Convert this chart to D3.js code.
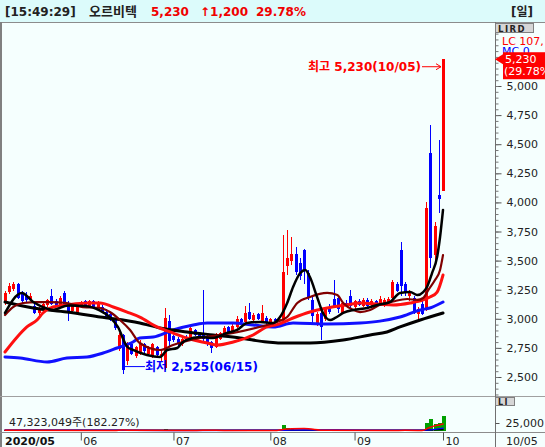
<!DOCTYPE html>
<html><head><meta charset="utf-8">
<script src="https://cdn.jsdelivr.net/npm/d3@7"></script>
<style>body{margin:0;background:#fff}svg{display:block}</style>
</head><body>
<script>
// ---------------- DATA ----------------
const openP = [3140,3230,3260,3300,3220,3200,3160,3110,3050,3090,
3120,3200,3150,3100,3220,3130,3070,3040,3100,3150,
3110,3150,3100,3100,3060,3040,3000,2740,2860,2640,
2780,2680,2700,2780,2700,2680,2760,2680,2580,2980,
2850,2830,2780,2840,2820,2900,2880,2870,2850,2800,
2760,2830,2860,2930,2880,2930,3000,2970,3060,2990,
3040,2980,3010,2970,3000,2980,2990,3450,3500,3560,
3480,3590,3390,3160,2960,3050,3000,3100,3170,3180,
3050,3140,3200,3100,3150,3110,3160,3120,3150,3120,
3130,3140,3180,3300,3590,3300,3200,3180,3040,3130,
3080,4425,3550,4065,4100];
const highP = [3235,3310,3320,3310,3240,3230,3220,3140,3100,3140,
3170,3260,3170,3200,3240,3150,3120,3120,3150,3160,
3160,3160,3150,3120,3080,3050,3010,2880,2870,2800,
2800,2770,2820,2790,2770,2790,2770,2730,3090,3030,
2860,2840,2850,2860,2940,2910,2890,3250,2860,2810,
2880,2890,2940,2940,2960,3020,3010,3110,3140,3050,
3050,3120,3020,3010,3010,3020,3720,3760,3700,3620,
3520,3600,3420,3200,3060,3060,3100,3130,3330,3200,
3150,3160,3250,3160,3170,3180,3180,3170,3160,3200,
3180,3190,3330,3320,3660,3320,3250,3200,3100,3150,
4000,4665,3830,4535,5230];
const lowP = [3120,3215,3240,3170,3130,3140,3150,3040,3030,3080,
3100,3120,3110,3090,3110,2980,3050,3030,3090,3100,
3100,3090,3090,3050,3000,2980,2900,2720,2525,2600,
2690,2660,2690,2700,2680,2660,2680,2640,2560,2760,
2800,2760,2770,2800,2810,2850,2830,2800,2770,2710,
2750,2820,2850,2870,2870,2920,2960,2960,2990,2980,
2990,2970,2950,2960,2970,2970,2980,3380,3460,3380,
3330,3300,3160,2950,2940,2820,2980,3040,3090,3050,
3040,3100,3090,3080,3110,3100,3100,3110,3110,3110,
3100,3120,3150,3230,3200,3200,3150,3040,2990,3030,
3070,3440,3500,3910,4100];
const closeP = [3220,3280,3300,3180,3150,3160,3200,3050,3090,3130,
3160,3130,3120,3180,3120,3060,3110,3110,3140,3110,
3150,3100,3140,3060,3010,2990,2920,2860,2560,2780,
2700,2760,2790,2720,2760,2780,2690,2700,3010,2810,
2820,2780,2830,2810,2920,2860,2840,2830,2790,2750,
2860,2880,2920,2890,2940,3000,2970,3050,3000,3030,
3000,3050,2960,3000,2980,3000,3400,3520,3560,3400,
3370,3420,3190,3020,3040,2930,3090,3060,3110,3080,
3140,3120,3110,3150,3120,3160,3110,3150,3130,3170,
3160,3170,3320,3240,3280,3220,3230,3050,3080,3040,
3950,3520,3800,4030,5230];
// volume in millions of shares
const volumeM = [3.2,2.8,2.5,2.4,2.0,1.8,1.6,2.2,1.5,1.4,
1.3,1.8,1.2,1.4,1.6,2.0,1.2,1.1,1.3,1.0,
1.1,1.0,1.2,1.3,1.5,1.4,2.0,3.0,4.5,2.5,
1.8,1.5,1.6,1.2,1.1,1.3,1.0,1.2,5.0,3.0,
1.6,1.3,1.2,1.1,2.0,1.4,1.2,4.2,2.0,1.5,
1.6,1.3,1.4,1.1,1.3,1.8,1.2,2.2,2.0,1.3,
1.2,1.5,1.2,1.0,1.1,1.2,19.0,9.0,5.5,4.0,
3.0,3.2,2.5,2.8,1.8,2.2,1.6,1.4,1.8,1.5,
1.4,1.2,1.5,1.1,1.0,1.2,1.0,1.1,1.0,1.2,
1.1,1.3,2.5,1.6,4.0,1.8,1.3,1.6,1.4,1.5,
26.0,38.0,22.0,26.0,47.323049];

// moving averages: [candle index] -> value
const ma5Idx = [0,4,6.7,9,11.4,15,19,22.6,24.9,26.8,29,30.4,33.7,36.8,38.5,40.9,42,43.2,46.3,49.4,52.7,55.1,57.5,60.6,63.7,65.3,67,68.4,70.1,71.3,72.4,74.1,75.5,77.2,78.4,80.3,82.7,86,88.4,91.4,93.8,96.2,97.9,99.3,100.2,101.4,102.6,103.3,104];
const ma5Val = [3050,3222,3144,3101,3076,3115,3110,3070,3015,2930,2760,2732,2689,2672,2732,2749,2792,2818,2844,2835,2878,2904,2964,2973,2964,3015,3136,3273,3393,3419,3359,3187,3050,2990,3007,3050,3076,3093,3119,3144,3222,3230,3204,3230,3273,3393,3531,3703,3935];
const ma10Idx = [0,1.9,4.3,7.6,10.7,14.7,18.5,22.6,24.9,27.3,29.7,32,36.8,39.9,46.3,54.2,62.2,64.6,67,69.4,72.4,76.5,78.9,80.3,82.7,84.3,86.7,89,92.2,95.5,97.9,99.3,100.5,102.1,103.3,104];
const ma10Val = [3033,3101,3136,3144,3144,3136,3101,3093,3058,2990,2904,2792,2732,2775,2835,2878,2947,2973,3015,3136,3187,3222,3204,3136,3076,3058,3076,3120,3150,3170,3162,3179,3247,3333,3419,3548];
const ma20Idx = [0,2.9,5.2,7.6,9,11.4,14.7,19.5,22.6,25.7,29,32,36.1,39.2,43.2,48,50.4,54.2,58.9,62.2,64.6,68.4,72.4,76.5,81,84.3,89,92.2,96.2,99.3,100.9,102.6,104];
const ma20Val = [2715,2844,2930,2990,3050,3101,3119,3136,3136,3101,3058,3015,2930,2887,2835,2792,2775,2801,2861,2930,2950,3007,3058,3093,3119,3136,3125,3119,3136,3162,3187,3230,3376];
const ma60Idx = [0,3.6,10,14.7,19.5,23.3,26.6,30.4,32,35.2,39.9,44.7,48,54.2,58.9,63.7,68.4,76.5,84.3,89,93.8,98.6,100.9,104];
const ma60Val = [2672,2663,2629,2663,2672,2706,2749,2801,2835,2844,2904,2947,2964,2964,2947,2930,2964,2955,2964,2980,3015,3076,3093,3144];
const ma120Idx = [0,6.7,14.7,22.6,32,36.8,43.2,49.4,55.8,62.2,65.3,72.4,80.3,86.7,90.7,93.8,98.6,104];
const ma120Val = [3144,3093,3058,3015,2964,2921,2887,2861,2835,2801,2792,2792,2818,2861,2887,2930,2990,3050];

const vma5Idx = [0,26,28,30,44,47,50,64,66,68,71,76,92,95,98,99,100,101,102,103,104];
const vma5Val = [2.3,1.5,2.8,2.5,1.4,2.2,2.0,1.2,4.7,7.2,7.8,2.3,1.5,2.3,1.9,1.5,6,12,16,19,22];
const vma20Idx = [0,28,40,66,70,86,99,104];
const vma20Val = [2.0,2.2,1.8,2.6,3.5,2.6,2.0,9.0];
const vma60Idx = [0,66,99,104];
const vma60Val = [2.0,2.0,2.4,4.6];

const priceTicks = [2500,2750,3000,3250,3500,3750,4000,4250,4500,4750,5000];
const volTicks = [25];
const monthIdx = [18,40,63,83,104];
const monthLabels = ["06","07","08","09","10"];
const firstLabel = "2020/05";
const lastDate = "10/05";
const headerTime = "[15:49:29]";
const stockName = "오르비텍";
const lastPrice = "5,230";
const change = "↑1,200";
const changePct = "29.78%";
const periodLabel = "[일]";
const volText = "47,323,049주(182.27%)";
const hiText = "최고 5,230(10/05)";
const loText = "최저 2,525(06/15)";
const hiIdx = 104, loIdx = 28;

// ---------------- LAYOUT ----------------
const W = 545, H = 447;
const font = "'DejaVu Sans','Noto Sans CJK KR',sans-serif";
const x = d3.scaleLinear().domain([0, 104]).range([5, 443]);
const y = d3.scaleLinear().domain([2500, 5000]).range([377, 86]);
const yv = d3.scaleLinear().domain([0, 25]).range([431, 423]);

const svg = d3.select("body").append("svg").attr("width", W).attr("height", H)
  .style("font-family", font);

svg.append("rect").attr("width", W).attr("height", H).attr("fill", "#f5fffe");
svg.append("rect").attr("width", W).attr("height", 22).attr("fill", "#dcfbfb");

function line(x1,y1,x2,y2,c,w){svg.append("line").attr("x1",x1).attr("y1",y1).attr("x2",x2).attr("y2",y2).attr("stroke",c).attr("stroke-width",w||1).attr("shape-rendering","crispEdges");}
line(0,22.5,W,22.5,"#8c8c8c");
line(1,22,1,H,"#808080",2);
line(0,396.5,W,396.5,"#a0a0a0");
line(0,432.5,W,432.5,"#8c8c8c");
line(495.5,22,495.5,H,"#707070");

// header
const hdr = svg.append("g").attr("font-weight","bold").attr("font-size","12px");
hdr.append("text").attr("x",5).attr("y",16).attr("fill","#222").text(headerTime);
hdr.append("text").attr("x",89).attr("y",16).attr("fill","#222").attr("font-size","13px").text(stockName);
hdr.append("text").attr("x",151).attr("y",16).attr("fill","#f00000").text(lastPrice);
hdr.append("text").attr("x",200).attr("y",16).attr("fill","#f00000").text(change);
hdr.append("text").attr("x",256).attr("y",16).attr("fill","#f00000").text(changePct);
hdr.append("text").attr("x",511).attr("y",16).attr("fill","#222").text(periodLabel);

// clip for price pane
svg.append("clipPath").attr("id","pc").append("rect").attr("x",3).attr("y",23).attr("width",492).attr("height",373);
const pg = svg.append("g").attr("clip-path","url(#pc)");

// candles
const idx = d3.range(openP.length);
const cg = pg.append("g").attr("shape-rendering","crispEdges");
cg.selectAll("line").data(idx).join("line")
  .attr("x1",i=>Math.round(x(i))+0.5).attr("x2",i=>Math.round(x(i))+0.5)
  .attr("y1",i=>y(highP[i])).attr("y2",i=>y(lowP[i]))
  .attr("stroke",i=>closeP[i]>=openP[i]?"#ff0000":"#0000ff");
cg.selectAll("rect").data(idx).join("rect")
  .attr("x",i=>Math.round(x(i))-1).attr("width",3)
  .attr("y",i=>Math.min(y(openP[i]),y(closeP[i])))
  .attr("height",i=>Math.max(1,Math.abs(y(openP[i])-y(closeP[i]))))
  .attr("fill",i=>closeP[i]>=openP[i]?"#ff0000":"#0000ff");

// moving averages
function maLine(g, xs, vs, sx, sy, color, w){
  const pts = xs.map((d,k)=>[d, vs[k]]);
  g.append("path").datum(pts)
   .attr("d", d3.line().x(d=>sx(d[0])).y(d=>sy(d[1])).curve(d3.curveMonotoneX))
   .attr("fill","none").attr("stroke",color).attr("stroke-width",w)
   .attr("stroke-linejoin","round").attr("stroke-linecap","round");
}
maLine(pg, ma60Idx, ma60Val, x, y, "#1010ff", 3);
maLine(pg, ma120Idx, ma120Val, x, y, "#000000", 3);
maLine(pg, ma20Idx, ma20Val, x, y, "#ff1010", 3);
maLine(pg, ma10Idx, ma10Val, x, y, "#800000", 2.2);
maLine(pg, ma5Idx, ma5Val, x, y, "#000000", 2.5);

// annotations
const hx = x(hiIdx), hy = y(highP[hiIdx]);
svg.append("text").attr("x",hx-22).attr("y",hy+12).attr("text-anchor","end")
  .attr("fill","#ff0000").attr("font-weight","bold").attr("font-size","12px").text(hiText);
svg.append("line").attr("x1",hx-21).attr("x2",hx-2).attr("y1",hy+7.5).attr("y2",hy+7.5).attr("stroke","#ff0000");
svg.append("path").attr("d",`M${hx-2},${hy+7.5} l-5,-3 M${hx-2},${hy+7.5} l-5,3`).attr("stroke","#ff0000").attr("fill","none");
const lx = x(loIdx), ly = y(lowP[loIdx]);
svg.append("line").attr("x1",lx+1).attr("x2",lx+22).attr("y1",ly-7.5).attr("y2",ly-7.5).attr("stroke","#0000ff");
svg.append("text").attr("x",lx+22).attr("y",ly-3).attr("fill","#0000ff")
  .attr("font-weight","bold").attr("font-size","12px").text(loText);

// right price axis
const yAxis = d3.axisRight(y).tickValues(priceTicks).tickFormat(d3.format(",")).tickSize(6).tickPadding(5);
const ya = svg.append("g").attr("transform","translate(495.5,0)").call(yAxis);
ya.select(".domain").remove();
ya.selectAll("text").attr("font-size","11px").attr("fill","#222").attr("font-family",font);
ya.selectAll("line").attr("stroke","#555");
const minor = d3.axisRight(y).tickValues(d3.range(2350, 5550, 50)).tickFormat("").tickSize(3);
const ym = svg.append("g").attr("transform","translate(495.5,0)").call(minor);
ym.select(".domain").remove();
ym.selectAll("line").attr("stroke","#777");
ym.selectAll("line").filter(function(){ const t=d3.select(this.parentNode).attr("transform"); const yy=+t.split(",")[1].replace(")",""); return yy<23||yy>395;}).remove();

// top-right widgets
svg.append("rect").attr("x",495.5).attr("y",23.5).attr("width",38).attr("height",9).attr("fill","#d6d6d6").attr("stroke","#808080");
svg.append("text").attr("x",498).attr("y",31.5).attr("font-size","8.5px").attr("font-weight","bold").attr("fill","#222").attr("letter-spacing","1.5px").text("LIRD");
svg.append("text").attr("x",502).attr("y",45).attr("font-size","11px").attr("fill","#ff0000").text("LC 107,");
svg.append("text").attr("x",502).attr("y",55).attr("font-size","11px").attr("fill","#0000ff").text("MC   0");
const py = y(closeP[104]);
svg.append("rect").attr("x",503).attr("y",py-7).attr("width",42).attr("height",27).attr("fill","#ff0000");
svg.append("path").attr("d",`M495,${py} L503,${py-5} L503,${py+5} Z`).attr("fill","#ff0000");
svg.append("text").attr("x",505).attr("y",py+3.5).attr("font-size","11px").attr("fill","#fff").text(lastPrice);
svg.append("text").attr("x",504).attr("y",py+16).attr("font-size","11px").attr("fill","#fff").text("("+changePct);

// volume pane
const vg = svg.append("g");
vg.append("g").attr("shape-rendering","crispEdges").selectAll("rect").data(idx).join("rect")
  .attr("x",i=>Math.round(x(i))-1.5).attr("width",4)
  .attr("y",i=>Math.min(yv(volumeM[i]),430)).attr("height",i=>Math.max(1.2, 431-yv(volumeM[i])))
  .attr("fill","#00a000");
maLine(vg, vma60Idx, vma60Val, x, yv, "#000000", 1.5);
maLine(vg, vma20Idx, vma20Val, x, yv, "#0000ff", 1.5);
maLine(vg, vma5Idx, vma5Val, x, yv, "#ff0000", 1.5);
svg.append("text").attr("x",9).attr("y",426).attr("font-size","11px").attr("fill","#222").text(volText);
const va = svg.append("g").attr("transform","translate(495.5,0)")
  .call(d3.axisRight(yv).tickValues(volTicks).tickFormat(d=>d3.format(",")(d*1000)).tickSize(4).tickPadding(6));
va.select(".domain").remove();
va.selectAll("text").attr("font-size","11px").attr("fill","#222").attr("font-family",font);
va.selectAll("line").attr("stroke","#555");
svg.append("rect").attr("x",495.5).attr("y",397.5).attr("width",19).attr("height",8).attr("fill","#d6d6d6").attr("stroke","#808080");
svg.append("text").attr("x",498).attr("y",405).attr("font-size","8px").attr("font-weight","bold").attr("fill","#222").attr("letter-spacing","1.5px").text("LI");

// x axis
const xa = svg.append("g").attr("transform","translate(0,432.5)")
  .call(d3.axisBottom(x).tickValues(monthIdx).tickFormat((d,k)=>monthLabels[k]).tickSize(8).tickPadding(0));
xa.select(".domain").remove();
xa.selectAll("line").attr("stroke","#555");
xa.selectAll("text").attr("text-anchor","start").attr("x",2).attr("y",12.5).attr("dy",0)
  .attr("font-size","11px").attr("fill","#222").attr("font-family",font);
svg.append("text").attr("x",5).attr("y",445).attr("font-size","11px").attr("font-weight","bold").attr("fill","#111").text(firstLabel);
svg.append("text").attr("x",506).attr("y",445).attr("font-size","11px").attr("fill","#222").text(lastDate);
</script>
</body></html>
